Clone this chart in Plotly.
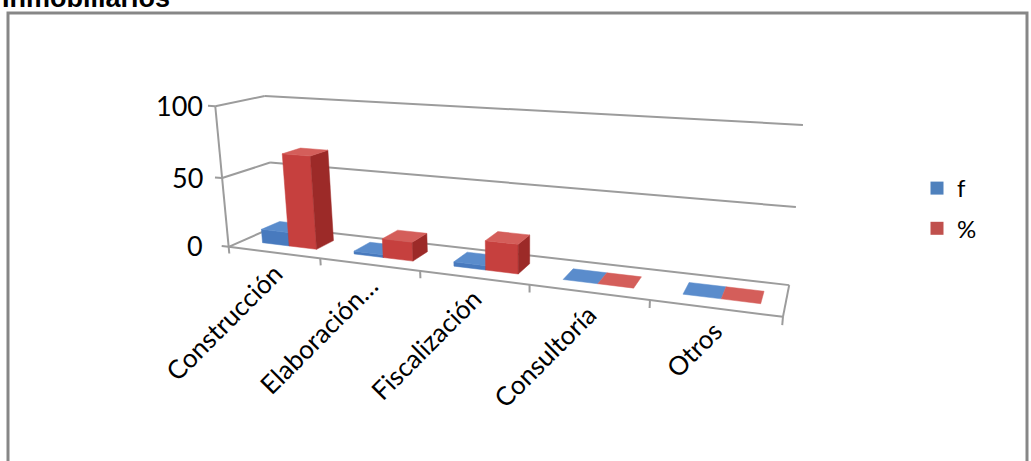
import numpy as np
import plotly.graph_objects as go

# ---- data -------------------------------------------------------------
categories = ["Construcción", "Elaboración…", "Fiscalización", "Consultoría", "Otros"]
series_names = ["f", "%"]
f_values = [10, 2, 3, 0, 0]
pct_values = [66.7, 13.3, 20.0, 0, 0]
value_ticks = [0, 50, 100]
title_text = "Inmobiliarios"

# ---- page / style -----------------------------------------------------
W, H = 1031, 461
FONT = "Lato"
GRID = "#9c9c9c"
FACE_COLORS = {
    "f": {"front": "rgb(72,122,190)", "side": "rgb(50,90,148)", "top": "rgb(90,140,204)"},
    "%": {"front": "rgb(198,64,62)", "side": "rgb(156,42,40)", "top": "rgb(212,94,90)"},
}
LEGEND_COLORS = {"f": "#4F81BD", "%": "#C0504D"}

# 3-D box of the chart: x in category units (0..5), depth 0..1, value 0..100.
# Camera fitted (DLT) so that these box corners land where the plot frame sits on the page.
FRAME = [
    ((0, 0, 0), (229, 247)),
    ((0, 0, 50), (222, 177)),
    ((0, 0, 100), (215, 107)),
    ((0, 1, 0), (275, 227)),
    ((0, 1, 50), (270, 162)),
    ((0, 1, 100), (265, 96)),
    ((5, 1, 0), (789, 285)),
    ((5, 1, 50), (796, 207)),
    ((5, 1, 100), (803, 125)),
    ((5, 0, 0), (783, 317)),
]
N_CAT = len(categories)
ZMAX = 100.0


def world(x, d, z):
    return np.array([x / N_CAT, d, z / ZMAX, 1.0])


def fit_camera(frame):
    uv = np.array([p for _, p in frame], float)
    mean = uv.mean(axis=0)
    scale = uv.std()
    rows = []
    for (x, d, z), (u, v) in frame:
        X = world(x, d, z)
        un, vn = (u - mean[0]) / scale, (v - mean[1]) / scale
        rows.append(np.concatenate([X, np.zeros(4), -un * X]))
        rows.append(np.concatenate([np.zeros(4), X, -vn * X]))
    _, _, vt = np.linalg.svd(np.array(rows))
    return vt[-1].reshape(3, 4), mean, scale


P, MEAN, SCALE = fit_camera(FRAME)


def project(x, d, z):
    p = P @ world(x, d, z)
    return p[0] / p[2] * SCALE + MEAN[0], p[1] / p[2] * SCALE + MEAN[1]


def depth(x, d, z):
    return abs((P @ world(x, d, z))[2])


fig = go.Figure()


def add_lines(segments, color=GRID, width=2):
    xs, ys = [], []
    for a, b in segments:
        u0, v0 = project(*a)
        u1, v1 = project(*b)
        xs += [u0, u1, None]
        ys += [v0, v1, None]
    fig.add_trace(go.Scatter(x=xs, y=ys, mode="lines", line=dict(color=color, width=width),
                             hoverinfo="skip", showlegend=False))


# walls: gridlines on the side wall and back wall
segs = []
for t in value_ticks:
    segs.append(((0, 0, t), (0, 1, t)))
    segs.append(((0, 1, t), (N_CAT, 1, t)))
# floor outline
segs.append(((0, 0, 0), (N_CAT, 0, 0)))
segs.append(((N_CAT, 0, 0), (N_CAT, 1, 0)))
# value axis and its ticks
segs.append(((0, 0, 0), (0, 0, ZMAX)))
for t in value_ticks:
    segs.append(((-0.08, 0, t), (0, 0, t)))
# category ticks
for i in range(N_CAT + 1):
    segs.append(((i, 0, 0), (i, 0, -5)))
add_lines(segs)

# ---- bars ---------------------------------------------------------------
BAR_W = 0.3
CLUSTER_X0 = 0.22
D0, D1 = 0.3, 0.7


def box_faces(x0, x1, d0, d1, h):
    return {
        "front": [(x0, d0, 0), (x1, d0, 0), (x1, d0, h), (x0, d0, h)],
        "back": [(x1, d1, 0), (x0, d1, 0), (x0, d1, h), (x1, d1, h)],
        "right": [(x1, d0, 0), (x1, d1, 0), (x1, d1, h), (x1, d0, h)],
        "left": [(x0, d1, 0), (x0, d0, 0), (x0, d0, h), (x0, d1, h)],
        "top": [(x0, d0, h), (x1, d0, h), (x1, d1, h), (x0, d1, h)],
    }


bars = []
for k, (name, values) in enumerate(zip(series_names, [f_values, pct_values])):
    for i, val in enumerate(values):
        x0 = i + CLUSTER_X0 + k * BAR_W
        bars.append((name, x0, x0 + BAR_W, val))

# paint the farthest boxes first
bars.sort(key=lambda b: -depth((b[1] + b[2]) / 2, (D0 + D1) / 2, b[3] / 2))

for name, x0, x1, val in bars:
    for face, verts in box_faces(x0, x1, D0, D1, val).items():
        pts = [project(*p) for p in verts]
        us = [p[0] for p in pts]
        vs = [p[1] for p in pts]
        area = 0.5 * sum(us[j] * vs[(j + 1) % 4] - us[(j + 1) % 4] * vs[j] for j in range(4))
        if area > -0.5:  # facing away from the viewer or degenerate
            continue
        role = "top" if face == "top" else ("front" if face in ("front", "back") else "side")
        col = FACE_COLORS[name][role]
        fig.add_trace(go.Scatter(x=us + [us[0]], y=vs + [vs[0]], mode="lines", fill="toself",
                                 fillcolor=col, line=dict(color=col, width=0.5),
                                 hoverinfo="skip", showlegend=False))

# legend entries
for name in series_names:
    fig.add_trace(go.Scatter(x=[None], y=[None], mode="markers", name=name, legendgroup=name,
                             marker=dict(symbol="square", size=13, color=LEGEND_COLORS[name])))

# ---- text ---------------------------------------------------------------
ann = []
label_right = min(project(-0.08, 0, t)[0] for t in value_ticks) - 3
for t in value_ticks:
    u, v = project(-0.08, 0, t)
    ann.append(dict(x=label_right, y=v, text=str(t), xref="x", yref="y", xanchor="right",
                    yanchor="middle", showarrow=False, font=dict(family=FONT, size=27, color="#000")))
for i, c in enumerate(categories):
    u, v = project(i + 0.5, 0, -7)
    ann.append(dict(x=u + 17, y=v - 8, text=c, xref="x", yref="y", xanchor="right", yanchor="top",
                    textangle=-45, showarrow=False, font=dict(family=FONT, size=26, color="#000")))
ann.append(dict(x=0, y=15, text="<b>" + title_text + "</b>", xref="x", yref="y", xanchor="left",
                yanchor="bottom", showarrow=False,
                font=dict(family="Liberation Sans, Arial", size=27, color="#000")))

fig.update_layout(
    width=W, height=H,
    margin=dict(l=0, r=0, t=0, b=0),
    paper_bgcolor="white", plot_bgcolor="white",
    xaxis=dict(range=[0, W], visible=False, fixedrange=True),
    yaxis=dict(range=[H, 0], visible=False, fixedrange=True),
    showlegend=True,
    legend=dict(x=917 / W, y=1 - 166 / H, xanchor="left", yanchor="top",
                font=dict(family=FONT, size=24, color="#000"), tracegroupgap=6,
                traceorder="grouped", itemwidth=30, bgcolor="rgba(0,0,0,0)"),
    annotations=ann,
    shapes=[dict(type="rect", xref="x", yref="y", x0=8, y0=13, x1=1027, y1=475,
                 line=dict(color="#878787", width=3), fillcolor="rgba(0,0,0,0)", layer="below")],
)

fig.write_html("out.html")
